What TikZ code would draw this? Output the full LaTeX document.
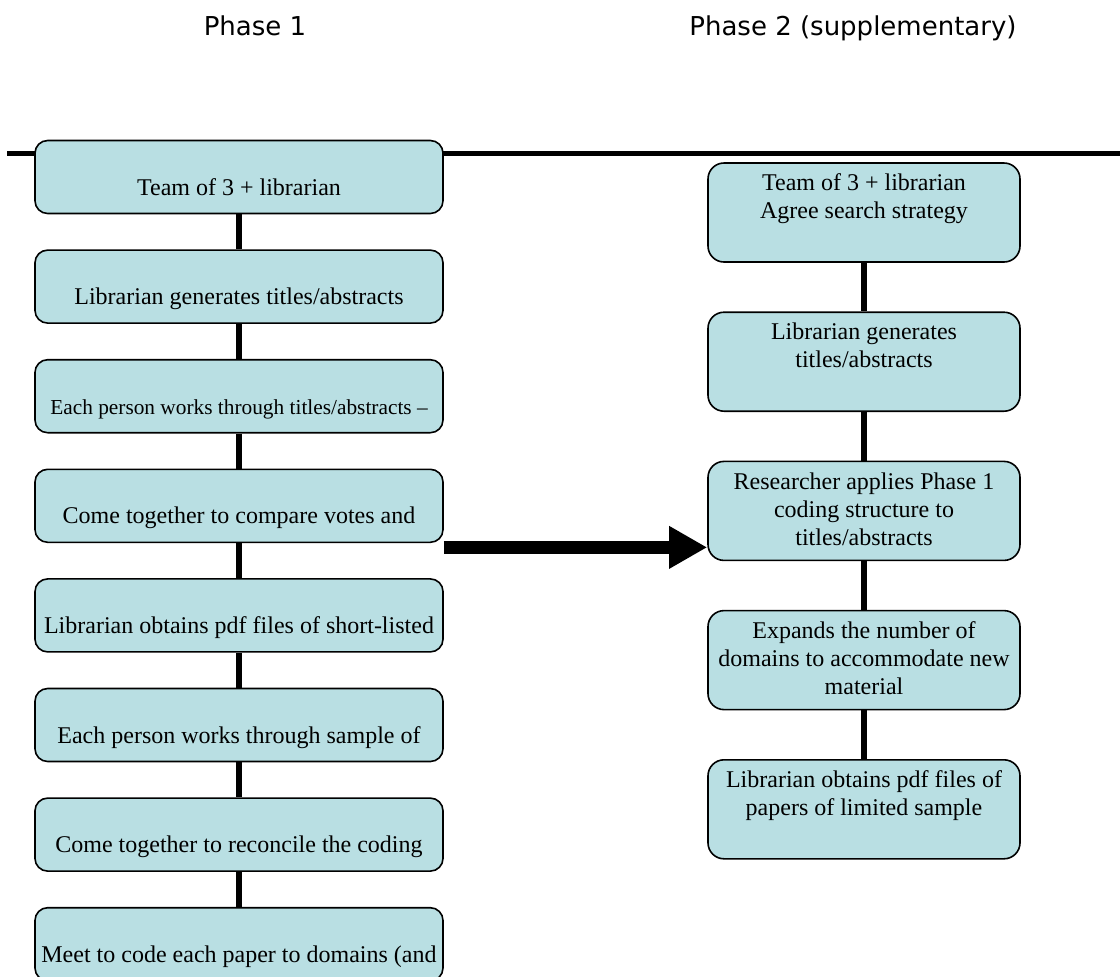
\documentclass[tikz,border=0pt]{standalone}
\usepackage{fontspec}
\setmainfont{Liberation Serif}
\newfontfamily\headfont{DejaVu Sans}
\usetikzlibrary{arrows.meta}
\definecolor{boxfill}{RGB}{185,223,227}
\begin{document}
\begin{tikzpicture}[x=0.75pt,y=-0.75pt,
  lbox/.style={draw=black, line width=1.2pt, fill=boxfill, rounded corners=9.5pt,
    minimum width=306pt, minimum height=54.75pt, inner sep=0pt},
  rbox/.style={draw=black, line width=1.2pt, fill=boxfill, rounded corners=12pt,
    minimum width=234pt, minimum height=74.25pt, inner sep=0pt},
  ltxt/.style={font=\fontsize{18}{21}\selectfont, inner sep=0pt, anchor=base, yshift=-13.5pt},
  rtxt/.style={font=\fontsize{18}{21}\selectfont, inner sep=0pt, align=center, anchor=north, yshift=-8.7pt},
  link/.style={line width=4pt},
  head/.style={font=\headfont\fontsize{19.5}{22}\selectfont, anchor=base, inner sep=0pt}]
\useasboundingbox (0,0) rectangle (1120,976);
\clip (0,0) rectangle (1120,976);

% headings
\node[head] (h1) at (255,35) {Phase 1};
\node[head] (h2) at (853,35) {Phase 2 (supplementary)};

% top rule
\coordinate (hl) at (7,153);
\coordinate (hr) at (1120,153);
\draw[link, line width=3.75pt] (hl) -- (hr);

% left column
\node[lbox] (L1) at (239,177) {};
\node[lbox] (L2) at (239,286.6) {};
\node[lbox] (L3) at (239,396.2) {};
\node[lbox] (L4) at (239,505.8) {};
\node[lbox] (L5) at (239,615.4) {};
\node[lbox] (L6) at (239,725) {};
\node[lbox] (L7) at (239,834.6) {};
\node[lbox] (L8) at (239,944.2) {};

\node[ltxt] (t1) at (L1.center) {Team of 3 + librarian};
\node[ltxt] (t2) at (L2.center) {Librarian generates titles/abstracts};
\node[ltxt, font=\fontsize{16}{19}\selectfont] (t3) at (L3.center) {Each person works through titles/abstracts –};
\node[ltxt] (t4) at (L4.center) {Come together to compare votes and};
\node[ltxt] (t5) at (L5.center) {Librarian obtains pdf files of short-listed};
\node[ltxt] (t6) at (L6.center) {Each person works through sample of};
\node[ltxt] (t7) at (L7.center) {Come together to reconcile the coding};
\node[ltxt] (t8) at (L8.center) {Meet to code each paper to domains (and};

\foreach \a/\b in {L1/L2,L2/L3,L3/L4,L4/L5,L5/L6,L6/L7,L7/L8}
  \draw[link] (\a.south) -- (\b.north);

% right column
\node[rbox] (R1) at (864,212.5) {};
\node[rbox] (R2) at (864,361.7) {};
\node[rbox] (R3) at (864,510.9) {};
\node[rbox] (R4) at (864,660.1) {};
\node[rbox] (R5) at (864,809.3) {};

\node[rtxt] (s1) at (R1.north) {Team of 3 + librarian\\Agree search strategy};
\node[rtxt] (s2) at (R2.north) {Librarian generates\\titles/abstracts};
\node[rtxt] (s3) at (R3.north) {Researcher applies Phase 1\\coding structure to\\titles/abstracts};
\node[rtxt] (s4) at (R4.north) {Expands the number of\\domains to accommodate new\\material};
\node[rtxt] (s5) at (R5.north) {Librarian obtains pdf files of\\papers of limited sample};

\foreach \a/\b in {R1/R2,R2/R3,R3/R4,R4/R5}
  \draw[link] (\a.south) -- (\b.north);

% big arrow
\coordinate (as) at ([yshift=-3.2pt]L4.south east);
\draw[line width=9.75pt, -{Triangle[length=28.5pt,width=30pt]}] (as) -- (as -| R3.west);
\end{tikzpicture}
\end{document}
